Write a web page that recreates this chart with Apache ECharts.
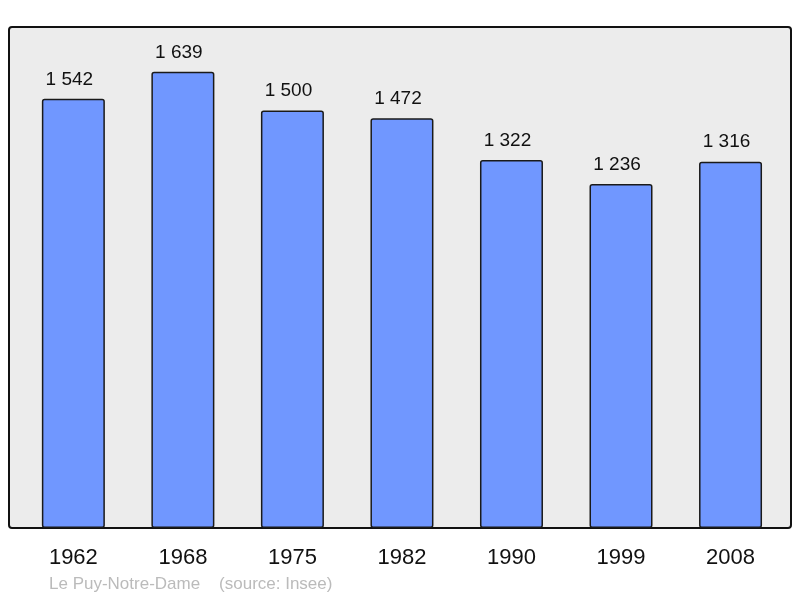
<!DOCTYPE html>
<html><head><meta charset="utf-8">
<script src="https://cdn.jsdelivr.net/npm/echarts@6/dist/echarts.min.js"></script>
<style>html,body{margin:0;padding:0;background:#fff}#c{width:800px;height:598px}</style>
</head><body><div id="c"></div>
<script>
const years = ['1962','1968','1975','1982','1990','1999','2008'];
const population = [1542,1639,1500,1472,1322,1236,1316];
const title = 'Le Puy-Notre-Dame    (source: Insee)';

const chart = echarts.init(document.getElementById('c'), null, {renderer:'canvas'});
chart.setOption({
  animation:false,
  graphic:[
    {type:'rect', shape:{x:9,y:27,width:782,height:501,r:3}, style:{fill:'#ececec',stroke:'#111',lineWidth:2}, z:-10},
    {type:'text', left:49, top:576, style:{text:title, fill:'#bbbbbb', font:'17px "Liberation Sans", Arial, sans-serif'}}
  ],
  grid:{left:18.6, right:14.7, top:27, bottom:70, containLabel:false},
  xAxis:{type:'category', data:years, axisLine:{show:true,lineStyle:{color:'#111',width:2}}, axisTick:{show:false},
    axisLabel:{color:'#111', fontSize:22, fontFamily:'"Liberation Sans", Arial, sans-serif', margin:19}},
  yAxis:{type:'value', min:0, max:1800, show:false, splitLine:{show:false}},
  series:[{type:'bar', data:population, barWidth:63,
    itemStyle:{color:'#7097ff', borderColor:'#1a1a1a', borderWidth:1.5, borderRadius:2},
    label:{show:true, position:'top', distance:10, offset:[-4,0], color:'#111', fontSize:19, fontFamily:'"Liberation Sans", Arial, sans-serif',
      formatter:p=>String(p.value).replace(/\B(?=(\d{3})+(?!\d))/g,' ')}
  }]
});
</script></body></html>
